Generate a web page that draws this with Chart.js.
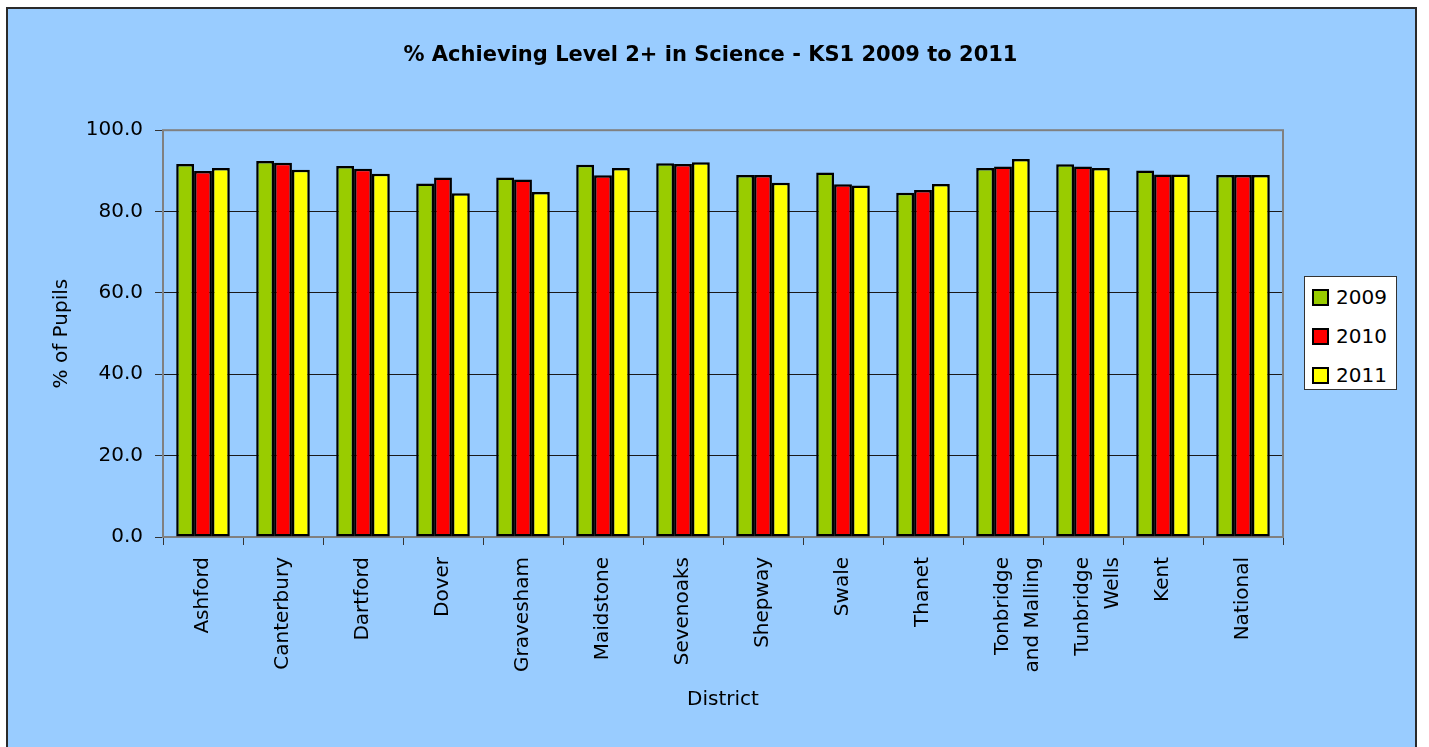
<!DOCTYPE html>
<html>
<head>
<meta charset="utf-8">
<script src="https://cdn.jsdelivr.net/npm/chart.js@4"></script>
<style>
  body { margin: 0; background: #fff; overflow: hidden; }
  .frame {
    position: absolute; left: 6px; top: 7px; width: 1407px; height: 800px;
    background: #99ccff; border: 2px solid #2a2a2a;
  }
  #chartWrap { position: absolute; left: 0; top: 0; width: 1429px; height: 747px; }
  .legend {
    position: absolute; left: 1304px; top: 276px; width: 91px; height: 112px;
    background: #fff; border: 1px solid #333;
    font-family: 'DejaVu Sans', sans-serif; font-size: 20px; color: #000;
  }
  .legend .item { position: absolute; left: 7px; height: 24px; line-height: 24px; }
  .legend .swatch {
    position: absolute; left: 0; top: 4px; width: 13px; height: 13px;
    border: 2px solid #000;
  }
  .legend .label { position: absolute; left: 24px; top: 0; white-space: nowrap; }
</style>
</head>
<body>
<div class="frame"></div>
<div id="chartWrap"><canvas id="chart" width="1429" height="747"></canvas></div>
<div class="legend" id="legend"></div>

<script>
// Chart data
const districts = ['Ashford', 'Canterbury', 'Dartford', 'Dover', 'Gravesham', 'Maidstone',
  'Sevenoaks', 'Shepway', 'Swale', 'Thanet', ['Tonbridge', 'and Malling'],
  ['Tunbridge', 'Wells'], 'Kent', 'National'];
const years = ['2009', '2010', '2011'];
const values2009 = [91.7, 92.4, 91.2, 86.9, 88.4, 91.5, 91.9, 89.0, 89.6, 84.6, 90.7, 91.6, 90.1, 89.0];
const values2010 = [90.0, 92.0, 90.5, 88.4, 87.9, 88.9, 91.7, 89.0, 86.7, 85.3, 91.1, 91.1, 89.1, 89.0];
const values2011 = [90.7, 90.3, 89.3, 84.5, 84.8, 90.7, 92.1, 87.1, 86.4, 86.8, 92.9, 90.7, 89.1, 89.0];
const yTicks = [0, 20, 40, 60, 80, 100];
const barColors = ['#99cc00', '#ff0000', '#ffff00'];

Chart.defaults.font.family = "'DejaVu Sans', sans-serif";
Chart.defaults.font.size = 20;
Chart.defaults.color = '#000';

// Grey frame round the plot area
const plotBorder = {
  id: 'plotBorder',
  beforeDatasetsDraw(chart) {
    const a = chart.chartArea;
    const ctx = chart.ctx;
    ctx.save();
    ctx.strokeStyle = '#808080';
    ctx.lineWidth = 2;
    ctx.strokeRect(a.left, a.top, a.right - a.left, a.bottom - a.top);
    ctx.restore();
  }
};

const seriesValues = [values2009, values2010, values2011];

const chart = new Chart(document.getElementById('chart'), {
  type: 'bar',
  data: {
    labels: districts,
    datasets: years.map((year, i) => ({
      label: year,
      data: seriesValues[i],
      backgroundColor: barColors[i],
      borderColor: '#000',
      borderWidth: 2.5,
      borderSkipped: false,
      categoryPercentage: 0.67,
      barPercentage: 1.0
    }))
  },
  options: {
    responsive: false,
    animation: false,
    layout: { padding: { left: 0, right: 8, top: 0, bottom: 0 } },
    plugins: {
      legend: { display: false },
      tooltip: { enabled: false },
      title: {
        display: true,
        text: '% Achieving Level 2+ in Science - KS1 2009 to 2011',
        font: { size: 21, weight: 'bold' },
        color: '#000',
        padding: { top: 43, bottom: 62 }
      }
    },
    scales: {
      x: {
        grid: { drawOnChartArea: false, offset: true, tickLength: 8, tickColor: '#333', lineWidth: 1 },
        border: { display: false },
        ticks: { minRotation: 90, maxRotation: 90, padding: 12, autoSkip: false, font: { size: 20, lineHeight: 1.5 } },
        title: { display: true, text: 'District', padding: { top: 0, bottom: 35 }, font: { size: 20 } },
        afterFit(scale) { scale.height = 210; }
      },
      y: {
        min: 0,
        max: 100,
        afterBuildTicks(scale) { scale.ticks = yTicks.map(v => ({ value: v })); },
        grid: {
          color: ctx => (ctx.tick && (ctx.tick.value === 0 || ctx.tick.value === 100)) ? 'rgba(0,0,0,0)' : '#1a1a1a',
          tickColor: '#333',
          tickLength: 8,
          lineWidth: 1
        },
        border: { display: false },
        ticks: { padding: 12, callback: v => v.toFixed(1) },
        title: { display: true, text: '% of Pupils', padding: { top: 50, bottom: 0 } },
        afterFit(scale) { scale.width = 163; }
      },
      // empty axis that only reserves the room on the right for the legend
      spacer: {
        position: 'right',
        min: 0,
        max: 100,
        grid: { display: false },
        border: { display: false },
        ticks: { display: false },
        afterFit(scale) { scale.width = 138; }
      }
    }
  },
  plugins: [plotBorder]
});

// Legend built from the same datasets
const legendEl = document.getElementById('legend');
chart.data.datasets.forEach((ds, i) => {
  const item = document.createElement('div');
  item.className = 'item';
  item.style.top = (8 + i * 39) + 'px';
  item.innerHTML = `<span class="swatch" style="background:${ds.backgroundColor}"></span><span class="label">${ds.label}</span>`;
  legendEl.appendChild(item);
});
</script>
</body>
</html>
